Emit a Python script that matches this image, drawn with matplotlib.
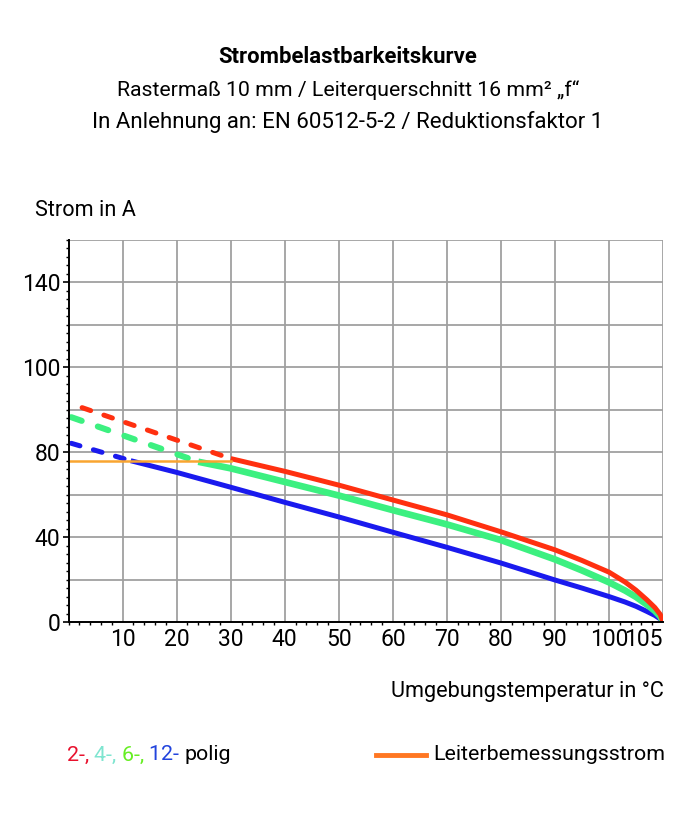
import matplotlib
matplotlib.use("Agg")
import matplotlib.pyplot as plt
from matplotlib.ticker import FixedLocator, MultipleLocator

plt.rcParams['font.family'] = ['Roboto', 'DejaVu Sans']

# ---- data ----
x_ticks = [10, 20, 30, 40, 50, 60, 70, 80, 90, 100, 110]
x_tick_labels = ["10", "20", "30", "40", "50", "60", "70", "80", "90", "100", "105"]
y_ticks = [0, 40, 80, 120, 160]
y_tick_labels = ["0", "40", "80", "100", "140"]

red_dash_x = [2.5, 30]
red_dash_y = [101, 77]
red_x = [30, 40, 50, 60, 70, 80, 90, 95, 100, 103, 105, 107, 108.5, 109.5, 110]
red_y = [77, 71, 64.5, 57.5, 50.5, 42.5, 34, 29, 23.5, 18.8, 15, 10.5, 6.8, 3.5, 0]

green_dash_x = [0.5, 24]
green_dash_y = [96.5, 75.5]
green_x = [24, 30, 40, 50, 60, 70, 80, 90, 95, 100, 103, 105, 107, 108.5, 109.5, 110]
green_y = [75.5, 72.4, 66, 59.6, 52.7, 46, 38.6, 29.5, 24.3, 18.7, 14.8, 11.8, 8.2, 5.2, 2.6, 0]

blue_dash_x = [0.5, 11.5]
blue_dash_y = [84.2, 76]
blue_x = [11.5, 20, 30, 40, 50, 60, 70, 80, 90, 95, 100, 103, 105, 107, 108.5, 109.5, 110]
blue_y = [76, 70.5, 63.5, 56.4, 49.5, 42.3, 35.2, 27.8, 19.8, 16, 12, 9.4, 7.4, 5, 3.1, 1.4, 0]

rated_x = [0, 30]
rated_y = [76, 76]

legend_parts = [("2-, ", "#e8112d"), ("4-, ", "#7fe5d0"), ("6-, ", "#66ee22"),
                ("12- ", "#2244dd"), ("polig", "black")]

# ---- figure ----
W, H = 697, 818
fig = plt.figure(figsize=(W / 100, H / 100), dpi=100)
ax = fig.add_axes([68.6 / W, 1 - 622 / H, (663 - 68.6) / W, (622 - 240) / H])
ax.set_xlim(0, 110)
ax.set_ylim(0, 180)

grid_c = "#a0a0a0"
ax.xaxis.set_major_locator(FixedLocator(x_ticks))
ax.set_xticklabels(x_tick_labels)
ax.yaxis.set_major_locator(FixedLocator(y_ticks))
ax.set_yticklabels(y_tick_labels)
ax.xaxis.set_minor_locator(MultipleLocator(2))
ax.yaxis.set_minor_locator(MultipleLocator(4))
for yv in range(20, 181, 20):
    ax.axhline(yv, color=grid_c, lw=1.3, zorder=1)
for xv in range(10, 111, 10):
    ax.axvline(xv, color=grid_c, lw=1.3, zorder=1)

for s in ["top", "right"]:
    ax.spines[s].set_visible(False)
for s in ["left", "bottom"]:
    ax.spines[s].set_color("black")
    ax.spines[s].set_linewidth(1.4)
    ax.spines[s].set_zorder(5)

ax.tick_params(axis="both", which="major", direction="out", length=4, width=1.2,
               labelsize=16.5, pad=2)
ax.tick_params(axis="both", which="minor", direction="out", length=2.5, width=1.0)
ax.tick_params(axis="x", which="major", length=0, pad=4)
lbls = ax.get_xticklabels()
lbls[-1].set_horizontalalignment("right")

red_c = "#ff3010"
green_c = "#3cf080"
blue_c = "#1a1aee"
orange_c = "#f9a530"

dash_kw = dict(linestyle=(0, (1.8, 2.8)), dash_capstyle="round", zorder=3)
ax.plot(red_dash_x, red_dash_y, color=red_c, lw=3.6, **dash_kw)
ax.plot(green_dash_x, green_dash_y, color=green_c, lw=4.4, **dash_kw)
ax.plot(blue_dash_x, blue_dash_y, color=blue_c, lw=3.6, **dash_kw)

ax.plot(rated_x, rated_y, color=orange_c, lw=1.8, zorder=4)
ax.plot(blue_x, blue_y, color=blue_c, lw=3.6, zorder=3, solid_capstyle="butt",
        solid_joinstyle="round")
ax.plot(green_x, green_y, color=green_c, lw=4.8, zorder=3, solid_capstyle="butt",
        solid_joinstyle="round")
ax.plot(red_x, red_y, color=red_c, lw=3.6, zorder=3, solid_capstyle="butt",
        solid_joinstyle="round")

# ---- texts ----
fig.text(348 / W, 1 - 57 / H, "Strombelastbarkeitskurve", ha="center", va="center",
         fontsize=15.9, fontweight="bold")
fig.text(348 / W, 1 - 90 / H, "Rastermaß 10 mm / Leiterquerschnitt 16 mm² „f“",
         ha="center", va="center", fontsize=15.3)
fig.text(348 / W, 1 - 122 / H, "In Anlehnung an: EN 60512-5-2 / Reduktionsfaktor 1",
         ha="center", va="center", fontsize=16)
fig.text(35 / W, 1 - 210 / H, "Strom in A", ha="left", va="center", fontsize=15.6)
fig.text(664 / W, 1 - 692 / H, "Umgebungstemperatur in °C", ha="right", va="center",
         fontsize=15.6)

# legend
fs = 15.4
fig.canvas.draw()
r = fig.canvas.get_renderer()
xpos = 67
for txt, col in legend_parts:
    t = fig.text(xpos / W, 1 - 755 / H, txt, ha="left", va="center", fontsize=fs,
                 color=col)
    bb = t.get_window_extent(renderer=r)
    xpos += bb.width
fig.add_artist(plt.Line2D([376 / W, 426 / W], [1 - 755 / H, 1 - 755 / H],
                          color="#ff7722", lw=3.5))
fig.text(433 / W, 1 - 755 / H, "Leiterbemessungsstrom", ha="left", va="center",
         fontsize=fs)

fig.savefig("out.png", dpi=100)
